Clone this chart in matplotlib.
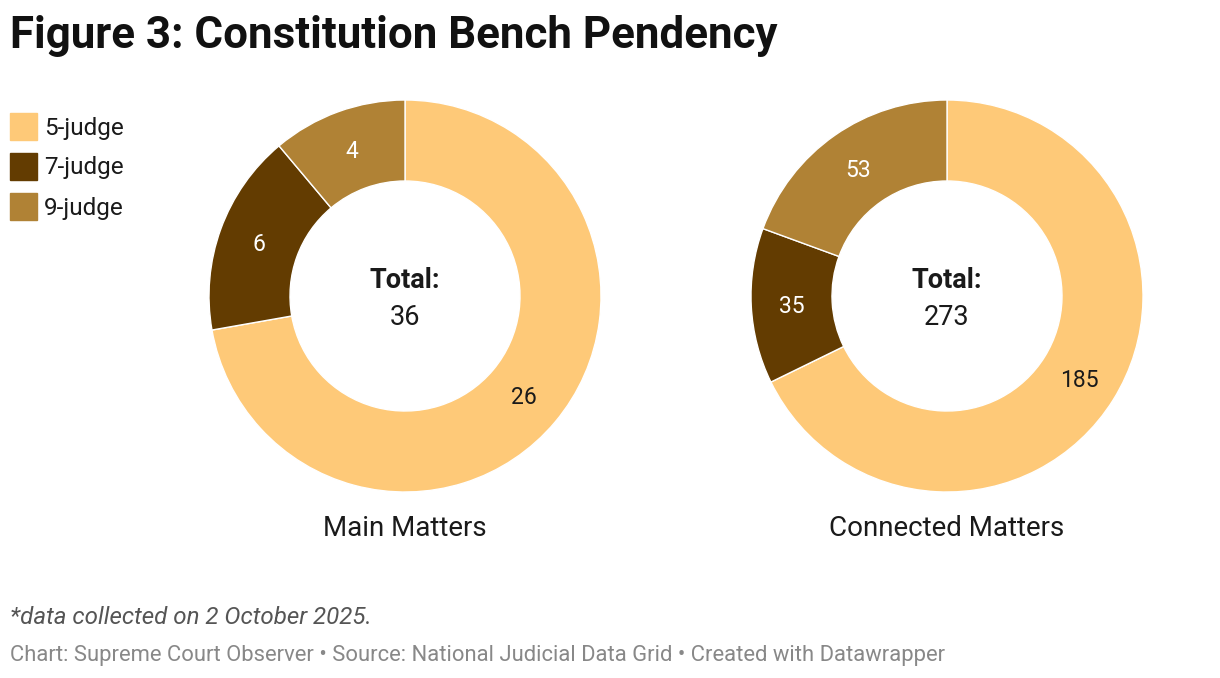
import matplotlib
matplotlib.use("Agg")
import matplotlib.pyplot as plt
from matplotlib.patches import Rectangle
import numpy as np

plt.rcParams['font.family'] = ['Roboto', 'DejaVu Sans']

categories = ["5-judge", "7-judge", "9-judge"]
colors = ["#fec978", "#633c01", "#b08235"]
label_colors = ["#1a1a1a", "#ffffff", "#ffffff"]
chart_titles = ["Main Matters", "Connected Matters"]
main_values = [26, 6, 4]
connected_values = [185, 35, 53]
series = [main_values, connected_values]

W, H = 1220, 678
fig = plt.figure(figsize=(W / 100, H / 100), dpi=100)

centers = [(405, 296), (947, 296)]
R = 196
inner = 115

for (cx, cy), vals, name in zip(centers, series, chart_titles):
    ax = fig.add_axes([(cx - R) / W, (H - cy - R) / H, 2 * R / W, 2 * R / H])
    width = 1 - inner / R
    wedges, _ = ax.pie(vals, colors=colors, startangle=90, counterclock=False,
                       radius=1, wedgeprops=dict(width=width, edgecolor='white', linewidth=1))
    ax.set_xlim(-1, 1)
    ax.set_ylim(-1, 1)
    ax.set_aspect('equal')
    ax.axis('off')
    total = sum(vals)
    rmid = 1 - width / 2
    for w, v, lc in zip(wedges, vals, label_colors):
        ang = np.deg2rad((w.theta1 + w.theta2) / 2)
        ax.text(rmid * np.cos(ang), rmid * np.sin(ang) - 0.01, str(v), ha='center', va='center',
                fontsize=16.5, color=lc)
    ax.text(0, 0.08, "Total:", ha='center', va='center', fontsize=19.5, fontweight='bold', color='#1a1a1a')
    ax.text(0, -0.11, str(total), ha='center', va='center', fontsize=19.5, color='#1a1a1a')
    fig.text(cx / W, 1 - 529 / H, name, ha='center', va='center', fontsize=20, color='#1a1a1a')

fig.text(10 / W, 1 - 36 / H, "Figure 3: Constitution Bench Pendency", ha='left', va='center',
         fontsize=31.6, fontweight='bold', color='#111111')

# legend
for i, lab in enumerate(categories):
    y = 113 + i * 40
    fig.patches.append(Rectangle((10 / W, 1 - (y + 27) / H), 27 / W, 27 / H,
                                 transform=fig.transFigure, color=colors[i], figure=fig))
    fig.text(44 / W, 1 - (y + 15) / H, lab, ha='left', va='center', fontsize=17.5, color='#1a1a1a')

fig.text(10 / W, 1 - 618 / H, "*data collected on 2 October 2025.", ha='left', va='center',
         fontsize=17.4, style='italic', color='#555555')
fig.text(10 / W, 1 - 656 / H,
         "Chart: Supreme Court Observer \u2022 Source: National Judicial Data Grid \u2022 Created with Datawrapper",
         ha='left', va='center', fontsize=15.8, color='#888888')

fig.savefig("out.png", dpi=100)
